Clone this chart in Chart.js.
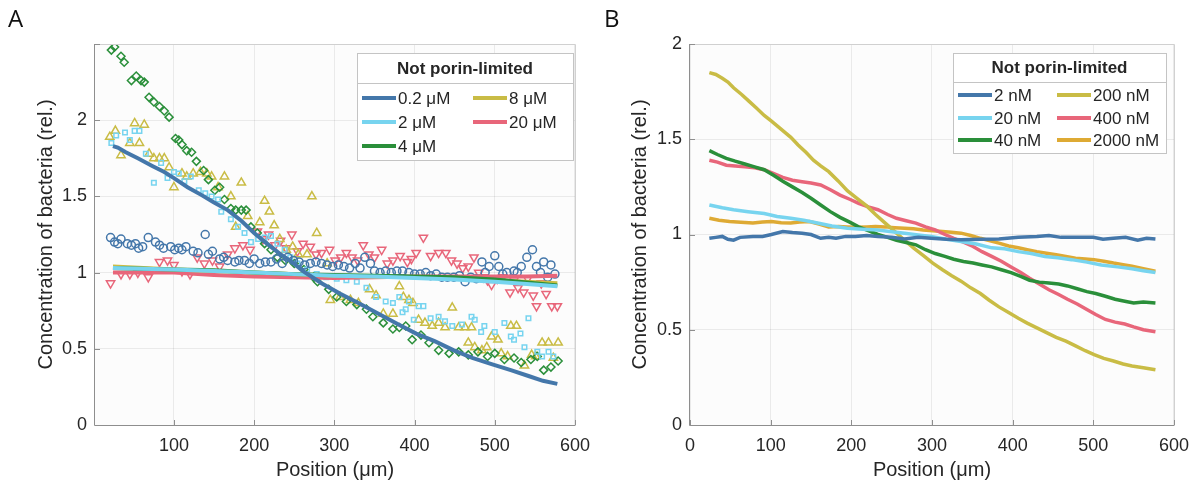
<!DOCTYPE html>
<html>
<head>
<meta charset="utf-8">
<script src="https://cdn.jsdelivr.net/npm/chart.js@4.4.0/dist/chart.umd.min.js"></script>
<style>
  body { margin:0; background:#fff; width:1199px; height:486px; overflow:hidden; position:relative; }
  .panel { position:absolute; top:0; height:486px; }
  #wrapA { left:0; width:600px; }
  #wrapB { left:600px; width:599px; }
  .tag { position:absolute; top:6px; font-family:"Open Sans", sans-serif; font-size:24px; line-height:24px; color:#111; }
</style>
</head>
<body>
<div class="panel" id="wrapA"><canvas id="chartA" width="600" height="486"></canvas></div>
<div class="panel" id="wrapB"><canvas id="chartB" width="599" height="486"></canvas></div>
<div class="tag" style="left:8px">A</div>
<div class="tag" style="left:604px">B</div>
<script>
// ---- panel A: fitted lines (position um, rel. concentration)
const aLabels = ['0.2 μM', '2 μM', '4 μM', '8 μM', '20 μM'];
const aLine02 = [[24,1.83],[30,1.82],[40,1.79],[55,1.75],[73,1.70],[88,1.66],[100,1.62],[117,1.56],[134,1.51],[150,1.46],[167,1.41],[184,1.34],[200,1.26],[216,1.19],[233,1.12],[247,1.07],[261,1.01],[284,0.93],[308,0.86],[330,0.80],[355,0.73],[380,0.66],[402,0.60],[425,0.55],[449,0.49],[472,0.44],[496,0.40],[520,0.36],[543,0.32],[560,0.29],[578,0.27]];
const aLine2 = [[24,1.03],[60,1.025],[100,1.02],[150,1.01],[200,1.0],[250,0.99],[300,0.98],[350,0.975],[400,0.965],[450,0.955],[500,0.94],[540,0.925],[578,0.91]];
const aLine4 = [[24,1.03],[100,1.02],[150,1.015],[200,1.0],[250,0.99],[300,0.985],[350,0.98],[400,0.975],[450,0.97],[500,0.955],[540,0.935],[578,0.915]];
const aLine8 = [[24,1.04],[100,1.02],[200,1.0],[300,0.98],[400,0.97],[500,0.95],[578,0.93]];
const aLine20 = [[24,1.0],[60,1.0],[100,1.0],[150,0.985],[200,0.975],[250,0.97],[300,0.965],[350,0.97],[400,0.975],[450,0.975],[500,0.975],[540,0.975],[578,0.98]];

// ---- panel A: measured points
const aPts02 = [[21,1.23],[26,1.20],[30,1.19],[34,1.22],[42,1.19],[47,1.18],[52,1.19],[56,1.16],[61,1.17],[68,1.23],[77,1.20],[82,1.18],[87,1.16],[96,1.17],[101,1.15],[106,1.16],[110,1.15],[115,1.17],[124,1.14],[130,1.13],[139,1.25],[143,1.12],[148,1.14],[157,1.09],[162,1.10],[167,1.08],[176,1.07],[181,1.08],[188,1.08],[194,1.06],[200,1.09],[207,1.06],[214,1.07],[221,1.07],[228,1.09],[235,1.06],[242,1.10],[249,1.08],[256,1.07],[263,1.05],[270,1.06],[277,1.07],[284,1.06],[291,1.05],[298,1.04],[305,1.05],[312,1.04],[319,1.03],[326,1.06],[332,1.03],[338,1.10],[345,1.06],[350,1.01],[357,1.00],[364,1.01],[371,1.00],[378,1.01],[385,1.01],[393,1.00],[400,0.99],[407,0.99],[414,1.00],[420,0.98],[427,0.99],[434,0.97],[441,0.97],[449,0.97],[456,0.98],[463,0.94],[470,0.97],[477,0.96],[484,1.07],[488,1.00],[493,1.04],[500,1.11],[505,1.04],[510,0.99],[515,1.00],[524,1.01],[528,1.00],[533,1.04],[540,1.10],[547,1.15],[552,1.04],[557,1.00],[561,1.07],[566,0.97],[570,1.05],[575,0.99]];
const aPts2 = [[22,1.85],[28,1.90],[39,1.92],[45,1.87],[51,1.93],[57,1.93],[65,1.78],[75,1.59],[84,1.72],[92,1.62],[100,1.66],[106,1.65],[113,1.60],[121,1.63],[131,1.54],[139,1.52],[147,1.50],[155,1.48],[159,1.40],[171,1.35],[180,1.30],[188,1.26],[196,1.20],[205,1.22],[213,1.23],[221,1.24],[229,1.19],[238,1.15],[245,1.10],[254,1.06],[266,1.02],[278,0.99],[290,0.97],[303,0.96],[315,0.95],[328,0.94],[340,0.90],[352,0.84],[364,0.81],[373,0.80],[381,0.84],[385,0.74],[389,0.76],[393,0.81],[399,0.69],[405,0.78],[411,0.78],[420,0.70],[430,0.71],[438,0.68],[447,0.65],[459,0.66],[471,0.71],[475,0.69],[483,0.61],[487,0.65],[500,0.61],[512,0.67],[520,0.58],[524,0.56],[532,0.60],[537,0.51],[542,0.70],[553,0.48],[559,0.45],[567,0.48],[573,0.45]];
const aPts4 = [[22,2.46],[26,2.48],[34,2.42],[38,2.38],[47,2.26],[53,2.29],[59,2.26],[63,2.25],[69,2.15],[75,2.12],[82,2.09],[88,2.06],[94,2.02],[102,1.88],[106,1.87],[110,1.84],[116,1.80],[122,1.79],[128,1.73],[137,1.67],[143,1.61],[151,1.54],[157,1.56],[163,1.48],[171,1.42],[177,1.41],[184,1.41],[190,1.41],[196,1.30],[204,1.26],[213,1.19],[221,1.15],[229,1.10],[239,1.08],[250,1.06],[262,1.02],[274,0.97],[279,0.94],[293,0.89],[303,0.84],[315,0.81],[328,0.79],[340,0.76],[348,0.71],[361,0.67],[373,0.63],[381,0.64],[389,0.65],[397,0.56],[408,0.59],[418,0.54],[430,0.49],[443,0.47],[455,0.48],[467,0.46],[479,0.48],[491,0.45],[500,0.47],[512,0.43],[524,0.44],[533,0.41],[545,0.43],[553,0.45],[561,0.36],[570,0.38],[579,0.42]];
const aPts8 = [[20,1.89],[27,1.93],[34,1.77],[45,1.85],[51,1.98],[57,1.85],[63,1.97],[69,1.78],[75,1.75],[82,1.75],[88,1.75],[94,1.69],[100,1.56],[110,1.65],[116,1.63],[124,1.65],[133,1.66],[141,1.65],[147,1.63],[155,1.56],[163,1.63],[171,1.50],[177,1.30],[184,1.59],[192,1.37],[207,1.33],[213,1.47],[219,1.40],[225,1.31],[232,1.22],[240,1.15],[248,1.17],[255,1.12],[266,1.12],[272,1.50],[278,1.26],[291,1.06],[295,0.82],[307,0.84],[320,0.82],[330,0.80],[344,0.89],[352,0.85],[361,0.73],[373,0.73],[381,0.91],[386,0.84],[393,0.82],[398,0.80],[405,0.69],[413,0.67],[422,0.65],[430,0.67],[438,0.64],[447,0.77],[455,0.64],[463,0.64],[467,0.54],[471,0.64],[475,0.51],[484,0.49],[490,0.51],[496,0.58],[504,0.56],[508,0.47],[516,0.45],[520,0.65],[527,0.65],[537,0.39],[546,0.46],[551,0.45],[559,0.54],[567,0.54],[573,0.44],[579,0.54]];
const aPts20 = [[21,0.93],[34,0.99],[45,0.99],[55,1.00],[68,0.97],[82,1.07],[92,1.08],[100,1.05],[110,1.01],[120,0.99],[129,1.10],[138,1.06],[148,1.08],[157,1.04],[167,1.12],[176,1.16],[186,1.18],[195,1.15],[204,1.27],[211,1.22],[218,1.25],[226,1.18],[233,1.21],[240,1.16],[247,1.25],[254,1.14],[261,1.19],[270,1.17],[277,1.12],[284,1.13],[294,1.15],[301,1.08],[308,1.10],[315,1.13],[322,1.10],[329,1.08],[336,1.18],[343,1.12],[350,1.10],[359,1.15],[366,1.06],[373,1.08],[382,1.11],[391,1.07],[396,1.09],[402,1.13],[411,1.23],[420,1.11],[430,1.13],[439,1.13],[446,1.08],[453,1.06],[460,1.03],[467,1.04],[474,1.10],[480,1.00],[486,0.97],[491,0.95],[496,0.92],[503,0.96],[510,0.97],[519,0.87],[524,0.95],[529,0.90],[536,0.87],[541,0.96],[548,0.85],[552,0.78],[558,0.93],[564,0.86],[571,0.78],[578,0.78]];

// ---- panel B: profiles
const bLabels = ['2 nM', '20 nM', '40 nM', '200 nM', '400 nM', '2000 nM'];
const bLine2 = [[24,0.98],[32,0.985],[40,0.99],[47,0.975],[54,0.97],[62,0.985],[78,0.99],[90,0.99],[101,1.0],[115,1.016],[127,1.01],[139,1.007],[150,1.0],[162,0.98],[172,0.985],[181,0.98],[193,0.99],[205,0.99],[219,0.995],[233,0.99],[250,0.985],[266,0.976],[283,0.985],[299,0.98],[318,0.975],[336,0.972],[360,0.975],[383,0.976],[407,0.985],[430,0.99],[445,0.995],[460,0.985],[478,0.986],[500,0.985],[512,0.975],[525,0.98],[540,0.985],[555,0.97],[566,0.98],[577,0.976]];
const bLine20 = [[24,1.155],[40,1.14],[54,1.13],[72,1.12],[92,1.11],[108,1.095],[125,1.085],[141,1.075],[158,1.06],[176,1.045],[195,1.033],[214,1.028],[233,1.024],[250,1.015],[266,1.007],[283,0.998],[299,0.99],[318,0.975],[336,0.963],[355,0.95],[374,0.93],[390,0.925],[407,0.91],[423,0.9],[440,0.885],[456,0.878],[473,0.868],[492,0.855],[510,0.84],[530,0.83],[548,0.82],[562,0.81],[577,0.80]];
const bLine40 = [[24,1.44],[34,1.42],[45,1.40],[56,1.385],[68,1.37],[80,1.355],[92,1.34],[104,1.31],[115,1.28],[127,1.25],[139,1.22],[150,1.19],[162,1.155],[174,1.12],[186,1.09],[198,1.065],[209,1.04],[221,1.02],[233,1.0],[245,0.985],[256,0.97],[268,0.958],[280,0.946],[292,0.92],[304,0.90],[316,0.885],[327,0.87],[339,0.858],[351,0.85],[362,0.84],[374,0.83],[386,0.815],[398,0.80],[410,0.78],[421,0.76],[433,0.75],[445,0.745],[457,0.74],[468,0.73],[480,0.715],[492,0.70],[503,0.69],[515,0.676],[527,0.66],[539,0.65],[550,0.64],[562,0.645],[577,0.64]];
const bLine200 = [[24,1.85],[32,1.84],[40,1.82],[47,1.80],[54,1.77],[64,1.735],[73,1.70],[82,1.665],[92,1.625],[101,1.595],[111,1.56],[118,1.535],[125,1.51],[134,1.47],[144,1.43],[153,1.39],[162,1.36],[172,1.33],[184,1.28],[195,1.23],[207,1.19],[219,1.15],[230,1.105],[242,1.06],[254,1.015],[266,0.97],[277,0.93],[289,0.89],[301,0.85],[313,0.815],[324,0.785],[336,0.755],[348,0.72],[360,0.69],[371,0.655],[383,0.62],[395,0.59],[407,0.56],[418,0.535],[430,0.51],[442,0.485],[454,0.46],[466,0.44],[478,0.415],[490,0.39],[501,0.37],[513,0.35],[525,0.336],[537,0.32],[548,0.31],[562,0.30],[577,0.29]];
const bLine400 = [[24,1.39],[34,1.38],[45,1.364],[56,1.36],[68,1.355],[80,1.35],[92,1.34],[104,1.32],[115,1.30],[127,1.285],[139,1.277],[150,1.27],[162,1.26],[174,1.235],[186,1.207],[198,1.185],[209,1.164],[221,1.145],[233,1.13],[245,1.105],[256,1.085],[268,1.072],[280,1.06],[292,1.04],[304,1.024],[316,1.0],[327,0.98],[339,0.96],[351,0.937],[362,0.91],[374,0.885],[386,0.86],[398,0.83],[410,0.80],[421,0.77],[433,0.74],[445,0.71],[457,0.685],[468,0.66],[480,0.635],[492,0.606],[503,0.58],[515,0.554],[527,0.54],[539,0.53],[550,0.515],[562,0.50],[577,0.49]];
const bLine2000 = [[24,1.085],[36,1.075],[49,1.068],[63,1.064],[78,1.06],[90,1.065],[101,1.068],[113,1.062],[125,1.06],[136,1.066],[148,1.068],[160,1.055],[172,1.04],[184,1.042],[195,1.04],[207,1.038],[219,1.04],[230,1.042],[242,1.04],[254,1.036],[266,1.033],[277,1.03],[289,1.024],[301,1.02],[313,1.016],[324,1.012],[336,1.007],[348,0.995],[360,0.98],[371,0.968],[383,0.955],[395,0.94],[407,0.93],[418,0.92],[430,0.91],[442,0.902],[454,0.894],[466,0.885],[478,0.876],[490,0.872],[501,0.868],[513,0.86],[525,0.85],[537,0.842],[548,0.833],[562,0.82],[577,0.807]];

const COLORS = { blue:'#4477AA', cyan:'#77D4EF', green:'#2A8F3A', yellow:'#C9BC45', red:'#E8667A', orange:'#DEAA34' };
const TEXT = '#262626';
const FONT = '"Liberation Sans", Arial, sans-serif';

function lineSet(label, data, color, width) {
  return { label, data, showLine:true, borderColor:color, borderWidth:width, pointRadius:0, tension:0, fill:false };
}
function markSet(data, color, style, radius, rotation) {
  return { data, showLine:false, borderColor:color, backgroundColor:'rgba(0,0,0,0)',
    pointStyle:style, pointRadius:radius, pointBorderWidth:1.5, pointRotation:rotation || 0, pointBackgroundColor:'rgba(0,0,0,0)' };
}

// background, axes box, inward ticks and the titled legend
function framePlugin(lg) {
  return {
    id:'frame',
    beforeDraw(chart) {
      const a = chart.chartArea, ctx = chart.ctx;
      ctx.save();
      ctx.fillStyle = '#fcfcfc';
      ctx.fillRect(a.left, a.top, a.right - a.left, a.bottom - a.top);
      ctx.restore();
    },
    afterDraw(chart) {
      const a = chart.chartArea, ctx = chart.ctx;
      ctx.save();
      ctx.lineWidth = 1;
      ctx.strokeStyle = '#d0d0d0';
      ctx.beginPath();
      ctx.moveTo(a.left, a.top + 0.5); ctx.lineTo(a.right + 0.5, a.top + 0.5); ctx.lineTo(a.right + 0.5, a.bottom);
      ctx.stroke();
      ctx.strokeStyle = '#8e8e8e';
      ctx.beginPath();
      ctx.moveTo(a.left - 0.5, a.top); ctx.lineTo(a.left - 0.5, a.bottom + 0.5); ctx.lineTo(a.right + 0.5, a.bottom + 0.5);
      ctx.stroke();
      // inward tick marks
      ctx.beginPath();
      chart.scales.x.ticks.forEach(t => {
        const px = Math.round(chart.scales.x.getPixelForValue(t.value)) + 0.5;
        ctx.moveTo(px, a.bottom); ctx.lineTo(px, a.bottom - 5);
      });
      chart.scales.y.ticks.forEach(t => {
        const py = Math.round(chart.scales.y.getPixelForValue(t.value)) + 0.5;
        ctx.moveTo(a.left, py); ctx.lineTo(a.left + 5, py);
      });
      ctx.stroke();

      // legend
      ctx.fillStyle = '#fff';
      ctx.fillRect(lg.x, lg.y, lg.w, lg.h);
      ctx.strokeStyle = '#c4c4c4';
      ctx.strokeRect(lg.x + 0.5, lg.y + 0.5, lg.w, lg.h);
      ctx.beginPath();
      ctx.moveTo(lg.x, lg.y + lg.titleH + 0.5); ctx.lineTo(lg.x + lg.w, lg.y + lg.titleH + 0.5);
      ctx.stroke();
      ctx.fillStyle = TEXT;
      ctx.textAlign = 'center'; ctx.textBaseline = 'middle';
      ctx.font = 'bold 17px ' + FONT;
      ctx.fillText('Not porin-limited', lg.x + lg.w / 2, lg.y + lg.titleH / 2 + 1);
      ctx.font = '17px ' + FONT;
      ctx.textAlign = 'left';
      lg.labels.forEach((lab, i) => {
        const col = Math.floor(i / 3), row = i % 3;
        const x0 = lg.cols[col], y0 = lg.rows[row];
        const ds = chart.data.datasets[i];
        ctx.strokeStyle = ds.borderColor; ctx.lineWidth = 4;
        ctx.beginPath(); ctx.moveTo(x0, y0); ctx.lineTo(x0 + 34, y0); ctx.stroke();
        ctx.fillText(lab, x0 + 36, y0 + 1);
      });
      ctx.restore();
    }
  };
}

function tickFont() { return { family:FONT, size:18 }; }

function makeChart(id, datasets, xOpts, yOpts, pad, yW, lg) {
  return new Chart(document.getElementById(id), {
    type:'scatter',
    data:{ datasets },
    options:{
      responsive:false, animation:false, events:[],
      layout:{ padding:pad },
      plugins:{ legend:{ display:false }, tooltip:{ enabled:false } },
      scales:{
        x: Object.assign({
          type:'linear',
          grid:{ color:'rgba(0,0,0,0.07)', drawTicks:false },
          border:{ display:false },
          ticks:{ color:TEXT, padding:10, stepSize:100, font:tickFont() },
          title:{ display:true, text:'Position (μm)', color:TEXT, font:{ family:FONT, size:20 } },
          afterFit(s) { s.height = 61; }
        }, xOpts),
        y: Object.assign({
          grid:{ color:'rgba(0,0,0,0.07)', drawTicks:false },
          border:{ display:false },
          ticks:{ color:TEXT, padding:8, stepSize:0.5, font:tickFont(), callback:v => String(v) },
          title:{ display:true, text:'Concentration of bacteria (rel.)', color:TEXT, font:{ family:FONT, size:20 } },
          afterFit(s) { s.width = yW; }
        }, yOpts)
      }
    },
    plugins:[framePlugin(lg)]
  });
}

const dsA = [
  lineSet(aLabels[0], aLine02, COLORS.blue, 4),
  lineSet(aLabels[1], aLine2, COLORS.cyan, 4),
  lineSet(aLabels[2], aLine4, COLORS.green, 4),
  lineSet(aLabels[3], aLine8, COLORS.yellow, 4),
  lineSet(aLabels[4], aLine20, COLORS.red, 4),
  markSet(aPts02, COLORS.blue, 'circle', 4),
  markSet(aPts2, COLORS.cyan, 'rect', 3.2),
  markSet(aPts4, COLORS.green, 'rectRot', 4),
  markSet(aPts8, COLORS.yellow, 'triangle', 4.8),
  markSet(aPts20, COLORS.red, 'triangle', 4.8, 180)
];

makeChart('chartA', dsA,
  { min:1.6, max:600, afterBuildTicks(s) { s.ticks = [100,200,300,400,500,600].map(v => ({ value:v })); } },
  { min:0, max:2.5, ticks:{ color:TEXT, padding:8, stepSize:0.5, font:tickFont(),
      callback:v => v === 2.5 ? '' : String(v) } },
  { left:30, right:18, top:44, bottom:0 }, 65,
  { x:357, y:53, w:216, h:107, titleH:30, labels:aLabels, cols:[362, 473], rows:[98, 122, 146] });

const dsB = [
  lineSet(bLabels[0], bLine2, COLORS.blue, 3.5),
  lineSet(bLabels[1], bLine20, COLORS.cyan, 3.5),
  lineSet(bLabels[2], bLine40, COLORS.green, 3.5),
  lineSet(bLabels[3], bLine200, COLORS.yellow, 3.5),
  lineSet(bLabels[4], bLine400, COLORS.red, 3.5),
  lineSet(bLabels[5], bLine2000, COLORS.orange, 3.5)
];

makeChart('chartB', dsB,
  { min:0, max:600 },
  { min:0, max:2 },
  { left:24, right:21, top:44, bottom:0 }, 66,
  { x:353, y:53, w:213, h:100, titleH:29, labels:bLabels, cols:[358, 457], rows:[95, 118, 140] });
</script>
</body>
</html>
